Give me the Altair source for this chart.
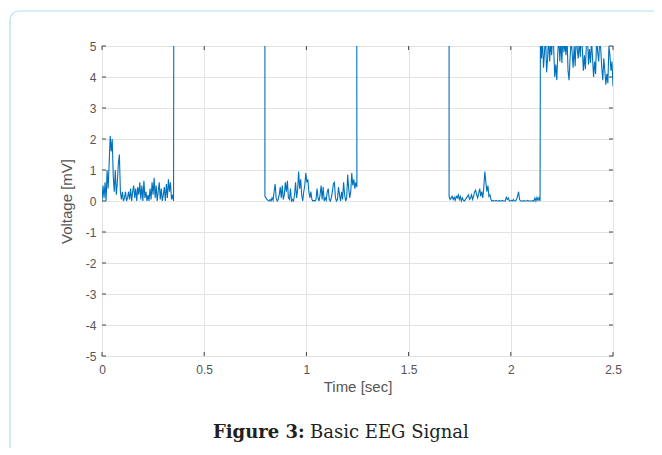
import altair as alt
import pandas as pd

dt = 0.005
seg_a_start = 0.0
seg_a = [0.0, 0.5, 0.1, 0.6, 0.0, 1.0, 0.4, 1.2, 2.1, 1.6, 2.0, 0.8, 0.3, 1.0, 0.2, 0.6,
         1.2, 1.5, 0.3, 0.05, 0.3, 0.0, 0.1, 0.3, 0.0, 0.1, 0.3, 0.05, 0.4, 0.0, 0.3, 0.5,
         0.1, 0.4, 0.0, 0.45, 0.2, 0.6, 0.05, 0.5, 0.0, 0.65, 0.1, 0.3, 0.0, 0.2, 0.0, 0.4,
         0.05, 0.6, 0.2, 0.75, 0.1, 0.5, 0.0, 0.3, 0.6, 0.05, 0.4, 0.0, 0.2, 0.45, 0.0, 0.55,
         0.1, 0.7, 0.3, 0.6, 0.05, 0.2, 0.0]
seg_b_start = 0.797
seg_b = [0.15, 0.1, 0.05, 0.02, 0.0, 0.05, 0.0, 0.1, 0.02, 0.3, 0.55, 0.1, 0.0, 0.05, 0.2,
         0.45, 0.1, 0.5, 0.05, 0.2, 0.6, 0.3, 0.65, 0.1, 0.05, 0.4, 0.0, 0.05, 0.0, 0.2, 0.6,
         0.1, 0.35, 0.95, 0.4, 0.7, 0.2, 0.0, 0.3, 0.5, 0.9, 0.6, 0.7, 0.3, 0.1, 0.3, 0.05,
         0.0, 0.02, 0.0, 0.05, 0.4, 0.1, 0.0, 0.2, 0.5, 0.05, 0.45, 0.0, 0.1, 0.02, 0.3, 0.4,
         0.05, 0.0, 0.1, 0.3, 0.55, 0.6, 0.1, 0.0, 0.05, 0.45, 0.2, 0.0, 0.3, 0.05, 0.6, 0.2,
         0.0, 0.1, 0.85, 0.4, 0.1, 0.3, 0.9, 0.5, 0.7, 0.4, 0.6, 0.45]
seg_c_start = 1.698
seg_c = [0.15, 0.05, 0.1, 0.15, 0.05, 0.12, 0.02, 0.15, 0.1, 0.2, 0.05, 0.15, 0.0, 0.1,
         0.02, 0.0, 0.05, 0.1, 0.15, 0.2, 0.05, 0.1, 0.2, 0.05, 0.15, 0.3, 0.35, 0.2, 0.1,
         0.25, 0.4, 0.15, 0.3, 0.1, 0.45, 0.95, 0.6, 0.3, 0.5, 0.15, 0.2, 0.05, 0.0, 0.02,
         0.0, 0.0, 0.02, 0.0, 0.0, 0.01, 0.0, 0.0, 0.02, 0.0, 0.0, 0.0, 0.12, 0.05, 0.1, 0.0,
         0.0, 0.02, 0.0, 0.05, 0.0, 0.0, 0.05, 0.15, 0.3, 0.05, 0.0, 0.0, 0.0, 0.01, 0.0, 0.0,
         0.0, 0.02, 0.0, 0.0, 0.0, 0.0, 0.01, 0.0, 0.1, 0.0, 0.12, 0.02, 0.1, 0.0]
seg_d_start = 2.145
seg_d = [5.5, 4.6, 5.2, 4.3, 4.8, 5.4, 4.15, 4.6, 5.3, 4.5, 5.1, 4.7, 5.5, 4.9, 4.0, 4.4,
         3.9, 4.8, 5.3, 4.5, 5.2, 4.45, 5.4, 4.8, 5.1, 4.7, 5.3, 4.2, 3.9, 4.6, 5.2, 4.8,
         4.3, 5.0, 4.35, 5.4, 4.9, 4.6, 5.2, 4.65, 5.5, 4.9, 4.2, 4.7, 4.25, 5.1, 5.4, 4.4,
         4.9, 4.45, 5.2, 4.6, 4.0, 4.5, 4.1, 5.3, 4.8, 4.5, 5.2, 4.9, 4.3, 3.9, 4.6, 4.2,
         3.75, 4.1, 3.8, 5.0, 4.7, 4.2, 4.5, 3.7]
# saturated (off-scale) stretches between the low segments
high_times = [0.352, 0.797, 1.246, 1.698]
high_level = 10.0

x_ticks = [0, 0.5, 1, 1.5, 2, 2.5]
y_ticks = [-5, -4, -3, -2, -1, 0, 1, 2, 3, 4, 5]

# ---- build table ----
rows = []


def add(t, v):
    rows.append({"t": round(t, 4), "v": v, "i": len(rows)})


for k, v in enumerate(seg_a):
    add(seg_a_start + k * dt, v)
add(high_times[0], high_level)
add(high_times[1], high_level)
for k, v in enumerate(seg_b):
    add(seg_b_start + k * dt, v)
add(high_times[2], high_level)
add(high_times[3], high_level)
for k, v in enumerate(seg_c):
    add(seg_c_start + k * dt, v)
for k, v in enumerate(seg_d):
    add(min(seg_d_start + k * dt, 2.5), v)

df = pd.DataFrame(rows)

W, H = 511, 310
LABEL_FONT = "Liberation Sans"
GRAY = "#555555"

xscale = alt.Scale(domain=[0, 2.5], nice=False, zero=False)
yscale = alt.Scale(domain=[-5, 5], nice=False)
x_axis = alt.Axis(values=x_ticks, grid=True, ticks=False, domain=False,
                  labelExpr="'' + datum.value",
                  labelPadding=8, titlePadding=4, labelFlush=False, labelOverlap=False)
y_axis = alt.Axis(values=y_ticks, grid=True, ticks=False, domain=False,
                  labelExpr="'' + datum.value",
                  labelPadding=6, titlePadding=11, labelFlush=False, labelOverlap=False)

line = alt.Chart(df).mark_line(color="#0072BD", strokeWidth=1.1, clip=True).encode(
    x=alt.X("t:Q", scale=xscale, title="Time [sec]", axis=x_axis),
    y=alt.Y("v:Q", scale=yscale, title="Voltage [mV]", axis=y_axis),
    order="i:Q",
)

xt = pd.DataFrame({"t": x_ticks})
yt = pd.DataFrame({"v": y_ticks})
tick_color = "#444444"
xtick_top = alt.Chart(xt).mark_rule(color=tick_color, strokeWidth=1).encode(
    x=alt.X("t:Q", scale=xscale, title="Time [sec]", axis=x_axis), y=alt.value(0), y2=alt.value(4))
xtick_bot = alt.Chart(xt).mark_rule(color=tick_color, strokeWidth=1).encode(
    x=alt.X("t:Q", scale=xscale, title="Time [sec]", axis=x_axis), y=alt.value(H), y2=alt.value(H - 4))
ytick_l = alt.Chart(yt).mark_rule(color=tick_color, strokeWidth=1).encode(
    y=alt.Y("v:Q", scale=yscale, title="Voltage [mV]", axis=y_axis), x=alt.value(0), x2=alt.value(4))
ytick_r = alt.Chart(yt).mark_rule(color=tick_color, strokeWidth=1).encode(
    y=alt.Y("v:Q", scale=yscale, title="Voltage [mV]", axis=y_axis), x=alt.value(W), x2=alt.value(W - 4))

one = pd.DataFrame({"a": [0]})
frame = alt.Chart(one).mark_rect(
    fill=None, stroke="#ade2ec", strokeWidth=1.2, cornerRadius=9, clip=False
).encode(x=alt.value(-92), y=alt.value(-35), x2=alt.value(700), y2=alt.value(700))

cap_bold = alt.Chart(pd.DataFrame({"s": ["Figure 3:"]})).mark_text(
    font="DejaVu Serif", fontSize=18, fontWeight="bold", color="#231f20",
    align="left", baseline="alphabetic"
).encode(text="s:N", x=alt.value(111), y=alt.value(392))
cap_reg = alt.Chart(pd.DataFrame({"s": ["Basic EEG Signal"]})).mark_text(
    font="DejaVu Serif", fontSize=18, color="#231f20",
    align="left", baseline="alphabetic"
).encode(text="s:N", x=alt.value(208), y=alt.value(392))

chart = alt.layer(frame, line, xtick_top, xtick_bot, ytick_l, ytick_r, cap_bold, cap_reg).properties(
    width=W, height=H,
    background="white",
    autosize=alt.AutoSizeParams(type="none"),
    padding={"left": 94, "top": 38, "right": 41, "bottom": 92},
).configure_view(stroke="#7a7a7a", strokeWidth=1).configure_axis(
    gridColor="#e3e3e3", gridWidth=1,
    labelFont=LABEL_FONT, labelFontSize=12, labelColor=GRAY,
    titleFont=LABEL_FONT, titleFontSize=15, titleColor=GRAY, titleFontWeight="normal",
)

chart.save("out.html", embed_options={"renderer": "svg", "actions": False})
